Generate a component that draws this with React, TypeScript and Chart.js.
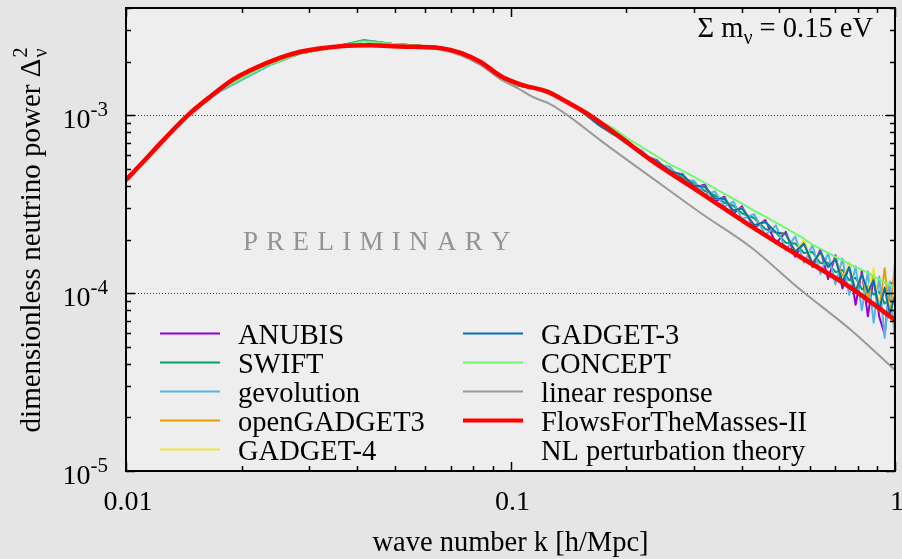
import React, { useEffect, useRef } from "react";
import { Chart, registerables } from "chart.js";

Chart.register(...registerables);

const SERIF = '"Liberation Serif", "Times New Roman", serif';

// ---------- axis / label data ----------
const xTickValues = [0.01, 0.1, 1];
const xTickLabels = ["0.01", "0.1", "1"];
const yTickValues = [1e-5, 1e-4, 1e-3];
const yTickExponents = ["-5", "-4", "-3"];
const gridValues = [1e-4, 1e-3];
const xTitle = "wave number k [h/Mpc]";
const yTitleMain = "dimensionless neutrino power \u0394";
const massText = ["\u03A3 m", "\u03BD", " = 0.15 eV"];
const watermark = "PRELIMINARY";

// ---------- series data ----------
const simK = [0.0155, 0.0176, 0.0235, 0.0283, 0.0345, 0.0414, 0.049, 0.0565, 0.066, 0.075, 0.085, 0.094, 0.104, 0.115, 0.125, 0.14, 0.155, 0.17, 0.185, 0.2, 0.22, 0.24, 0.26, 0.28, 0.3, 0.32, 0.34, 0.36, 0.38, 0.4, 0.43, 0.46, 0.49, 0.52, 0.55, 0.58, 0.61, 0.64, 0.67, 0.7, 0.73, 0.76, 0.79, 0.82, 0.85, 0.88, 0.91, 0.94, 0.97, 1.0];

const anubisP = [1.12e-3, 1.39e-3, 1.92e-3, 2.22e-3, 2.41e-3, 2.62e-3, 2.52e-3, 2.46e-3, 2.41e-3, 2.25e-3, 1.93e-3, 1.64e-3, 1.47e-3, 1.41e-3, 1.36e-3, 1.20e-3, 1.03e-3, 8.79e-4, 7.82e-4, 7.21e-4, 6.00e-4, 5.59e-4, 4.74e-4, 4.67e-4, 3.92e-4, 4.07e-4, 3.27e-4, 3.48e-4, 2.80e-4, 3.07e-4, 2.32e-4, 2.57e-4, 1.90e-4, 2.21e-4, 1.60e-4, 1.96e-4, 1.40e-4, 1.76e-4, 1.20e-4, 1.63e-4, 1.06e-4, 1.44e-4, 8.60e-5, 1.33e-4, 7.40e-5, 1.22e-4, 7.37e-5, 5.85e-5, 1.13e-4, 1.15e-4];

const swiftP = [1.12e-3, 1.39e-3, 1.92e-3, 2.22e-3, 2.41e-3, 2.64e-3, 2.52e-3, 2.46e-3, 2.41e-3, 2.25e-3, 1.93e-3, 1.64e-3, 1.47e-3, 1.41e-3, 1.36e-3, 1.20e-3, 1.03e-3, 8.79e-4, 7.82e-4, 7.02e-4, 6.16e-4, 5.37e-4, 4.92e-4, 4.43e-4, 4.18e-4, 3.76e-4, 3.54e-4, 3.22e-4, 3.10e-4, 2.81e-4, 2.64e-4, 2.29e-4, 2.19e-4, 1.92e-4, 1.90e-4, 1.68e-4, 1.70e-4, 1.47e-4, 1.48e-4, 1.31e-4, 1.35e-4, 1.18e-4, 1.22e-4, 1.05e-4, 1.09e-4, 9.81e-5, 1.02e-4, 8.73e-5, 9.22e-5, 8.79e-5];

const gevolutionP = [1.12e-3, 1.36e-3, 1.89e-3, 2.22e-3, 2.41e-3, 2.62e-3, 2.52e-3, 2.46e-3, 2.41e-3, 2.25e-3, 1.93e-3, 1.64e-3, 1.47e-3, 1.41e-3, 1.36e-3, 1.20e-3, 1.03e-3, 8.79e-4, 7.82e-4, 6.93e-4, 6.32e-4, 5.24e-4, 5.12e-4, 4.26e-4, 4.29e-4, 3.57e-4, 3.73e-4, 3.06e-4, 3.27e-4, 2.60e-4, 2.78e-4, 2.12e-4, 2.40e-4, 1.75e-4, 2.08e-4, 1.48e-4, 1.86e-4, 1.28e-4, 1.68e-4, 1.12e-4, 1.56e-4, 9.76e-5, 1.41e-4, 8.00e-5, 1.32e-4, 6.80e-5, 1.24e-4, 5.60e-5, 1.16e-4, 5.37e-5];

const openGadget3P = [1.12e-3, 1.39e-3, 1.92e-3, 2.22e-3, 2.41e-3, 2.62e-3, 2.52e-3, 2.46e-3, 2.41e-3, 2.25e-3, 1.93e-3, 1.64e-3, 1.47e-3, 1.41e-3, 1.36e-3, 1.20e-3, 1.03e-3, 8.79e-4, 7.82e-4, 7.12e-4, 6.08e-4, 5.52e-4, 4.86e-4, 4.61e-4, 4.02e-4, 3.96e-4, 3.40e-4, 3.39e-4, 2.91e-4, 3.00e-4, 2.41e-4, 2.51e-4, 2.19e-4, 2.15e-4, 1.71e-4, 1.89e-4, 1.47e-4, 1.70e-4, 1.40e-4, 1.55e-4, 1.25e-4, 1.40e-4, 1.02e-4, 1.28e-4, 9.13e-5, 1.26e-4, 8.00e-5, 1.38e-4, 7.24e-5, 1.49e-4];

const gadget4P = [1.12e-3, 1.39e-3, 1.92e-3, 2.22e-3, 2.41e-3, 2.62e-3, 2.52e-3, 2.46e-3, 2.41e-3, 2.25e-3, 1.93e-3, 1.64e-3, 1.47e-3, 1.41e-3, 1.36e-3, 1.20e-3, 1.03e-3, 8.79e-4, 7.82e-4, 7.12e-4, 6.08e-4, 5.52e-4, 4.86e-4, 4.61e-4, 4.02e-4, 3.96e-4, 3.40e-4, 3.39e-4, 2.91e-4, 3.00e-4, 2.41e-4, 2.51e-4, 2.19e-4, 2.15e-4, 1.71e-4, 1.99e-4, 1.47e-4, 1.70e-4, 1.40e-4, 1.55e-4, 1.16e-4, 1.49e-4, 1.02e-4, 1.28e-4, 1.01e-4, 1.38e-4, 8.00e-5, 1.07e-4, 7.59e-5, 9.75e-5];

const gadget3P = [1.12e-3, 1.39e-3, 1.92e-3, 2.22e-3, 2.41e-3, 2.62e-3, 2.52e-3, 2.46e-3, 2.41e-3, 2.25e-3, 1.93e-3, 1.64e-3, 1.47e-3, 1.41e-3, 1.36e-3, 1.20e-3, 1.03e-3, 8.79e-4, 7.82e-4, 7.12e-4, 6.08e-4, 5.52e-4, 4.86e-4, 4.61e-4, 4.02e-4, 3.96e-4, 3.40e-4, 3.39e-4, 2.91e-4, 3.00e-4, 2.41e-4, 2.51e-4, 2.19e-4, 2.15e-4, 1.71e-4, 1.89e-4, 1.47e-4, 1.70e-4, 1.40e-4, 1.55e-4, 1.16e-4, 1.40e-4, 1.02e-4, 1.28e-4, 1.01e-4, 1.18e-4, 8.00e-5, 1.07e-4, 7.59e-5, 9.75e-5];

const conceptP = [1.12e-3, 1.39e-3, 1.92e-3, 2.22e-3, 2.41e-3, 2.60e-3, 2.52e-3, 2.46e-3, 2.41e-3, 2.25e-3, 1.93e-3, 1.64e-3, 1.47e-3, 1.44e-3, 1.38e-3, 1.21e-3, 1.04e-3, 9.25e-4, 8.45e-4, 7.47e-4, 6.60e-4, 5.87e-4, 5.28e-4, 4.87e-4, 4.50e-4, 4.16e-4, 3.87e-4, 3.61e-4, 3.38e-4, 3.18e-4, 2.91e-4, 2.69e-4, 2.49e-4, 2.32e-4, 2.16e-4, 2.02e-4, 1.87e-4, 1.77e-4, 1.68e-4, 1.60e-4, 1.53e-4, 1.46e-4, 1.40e-4, 1.35e-4, 1.30e-4, 1.24e-4, 1.19e-4, 1.15e-4, 1.11e-4, 1.07e-4];

const linK = [0.01, 0.0112, 0.0123, 0.0145, 0.01655, 0.019, 0.021, 0.0237, 0.0284, 0.0361, 0.0432, 0.0518, 0.0583, 0.0658, 0.0741, 0.0836, 0.0942, 0.1043, 0.1148, 0.1271, 0.1406, 0.171, 0.232, 0.313, 0.422, 0.569, 0.768, 1.0];
const linP = [4.32e-4, 5.59e-4, 6.96e-4, 1.0e-3, 1.27e-3, 1.59e-3, 1.78e-3, 2.0e-3, 2.26e-3, 2.43e-3, 2.45e-3, 2.41e-3, 2.39e-3, 2.33e-3, 2.17e-3, 1.91e-3, 1.59e-3, 1.42e-3, 1.26e-3, 1.15e-3, 1.0e-3, 7.24e-4, 4.48e-4, 2.81e-4, 1.81e-4, 1.04e-4, 6.2e-5, 3.69e-5];

const ffmK = [0.01, 0.0112, 0.0123, 0.0145, 0.01655, 0.019, 0.021, 0.0237, 0.0284, 0.0361, 0.0432, 0.0518, 0.0658, 0.0741, 0.0836, 0.0942, 0.106, 0.125, 0.1406, 0.162, 0.193, 0.232, 0.313, 0.422, 0.569, 0.768, 1.0];
const ffmP = [4.32e-4, 5.59e-4, 6.96e-4, 1.0e-3, 1.27e-3, 1.59e-3, 1.78e-3, 2.0e-3, 2.27e-3, 2.44e-3, 2.47e-3, 2.43e-3, 2.38e-3, 2.24e-3, 1.99e-3, 1.66e-3, 1.49e-3, 1.35e-3, 1.18e-3, 9.87e-4, 7.52e-4, 5.59e-4, 3.65e-4, 2.38e-4, 1.59e-4, 1.07e-4, 7.05e-5];

const seriesLabels = ["ANUBIS", "SWIFT", "gevolution", "openGADGET3", "GADGET-4", "GADGET-3", "CONCEPT", "linear response", "FlowsForTheMasses-II", "NL perturbation theory"];
const seriesColors = ["#9400d3", "#009e73", "#56b4e9", "#e69f00", "#f0e442", "#0072b2", "#70f870", "#9a9a9a", "#ff0000", "rgba(0,0,0,0)"];

function pts(k: number[], p: number[]) {
  return k.map((x, i) => ({ x, y: p[i] }));
}

const seriesData = [
  pts(simK, anubisP),
  pts(simK, swiftP),
  pts(simK, gevolutionP),
  pts(simK, openGadget3P),
  pts(simK, gadget4P),
  pts(simK, gadget3P),
  pts(simK, conceptP),
  pts(linK, linP),
  pts(ffmK, ffmP),
  [] as { x: number; y: number }[],
];

const decorPlugin = {
  id: "decor",
  beforeDraw(chart: any) {
    const { ctx, chartArea: a } = chart;
    ctx.save();
    ctx.fillStyle = "#e6e5e5";
    ctx.fillRect(0, 0, chart.width, chart.height);
    ctx.fillStyle = "#efeeee";
    ctx.fillRect(a.left, a.top, a.right - a.left, a.bottom - a.top);
    ctx.restore();
  },
  beforeDatasetsDraw(chart: any) {
    const { ctx, chartArea: a, scales } = chart;
    ctx.save();
    ctx.strokeStyle = "#3a3a3a";
    ctx.lineWidth = 1;
    ctx.setLineDash([1, 2]);
    for (const v of gridValues) {
      const py = Math.round(scales.y.getPixelForValue(v)) + 0.5;
      ctx.beginPath();
      ctx.moveTo(a.left, py);
      ctx.lineTo(a.right, py);
      ctx.stroke();
    }
    ctx.restore();
    // watermark
    ctx.save();
    ctx.fillStyle = "#939393";
    ctx.font = `27px ${SERIF}`;
    ctx.textBaseline = "alphabetic";
    let x = 243;
    for (const ch of watermark) {
      ctx.fillText(ch, x, 250);
      x += ctx.measureText(ch).width + 8.3;
    }
    ctx.restore();
  },
  afterDatasetsDraw(chart: any) {
    const { ctx, chartArea: a, scales } = chart;
    const xs = scales.x;
    const ys = scales.y;
    ctx.save();
    ctx.strokeStyle = "#000";
    ctx.fillStyle = "#000";
    ctx.lineWidth = 1.5;
    // ticks
    ctx.beginPath();
    for (let e = -2; e <= 0; e++) {
      for (let m = 1; m <= 9; m++) {
        const v = m * Math.pow(10, e);
        if (v > 1.0001) continue;
        const px = Math.round(xs.getPixelForValue(v)) + 0.5;
        const len = m === 1 ? 9 : 5;
        ctx.moveTo(px, a.bottom);
        ctx.lineTo(px, a.bottom - len);
        ctx.moveTo(px, a.top);
        ctx.lineTo(px, a.top + len);
      }
    }
    for (let e = -5; e <= -3; e++) {
      for (let m = 1; m <= 9; m++) {
        const v = m * Math.pow(10, e);
        if (v > ys.max) continue;
        const py = Math.round(ys.getPixelForValue(v)) + 0.5;
        const len = m === 1 ? 9 : 5;
        ctx.moveTo(a.left, py);
        ctx.lineTo(a.left + len, py);
        ctx.moveTo(a.right, py);
        ctx.lineTo(a.right - len, py);
      }
    }
    ctx.stroke();
    // frame
    ctx.lineWidth = 2;
    ctx.strokeRect(a.left, a.top, a.right - a.left, a.bottom - a.top);

    // x tick labels
    ctx.font = `28px ${SERIF}`;
    ctx.textAlign = "center";
    ctx.textBaseline = "alphabetic";
    xTickValues.forEach((v, i) => {
      ctx.fillText(xTickLabels[i], xs.getPixelForValue(v) + 2, 510);
    });
    // y tick labels
    yTickValues.forEach((v, i) => {
      const py = ys.getPixelForValue(v);
      ctx.font = `28px ${SERIF}`;
      const w1 = ctx.measureText("10").width;
      ctx.font = `21px ${SERIF}`;
      const w2 = ctx.measureText(yTickExponents[i]).width;
      const x0 = 108 - w1 - w2;
      ctx.textAlign = "left";
      ctx.font = `28px ${SERIF}`;
      ctx.fillText("10", x0, py + 13);
      ctx.font = `21px ${SERIF}`;
      ctx.fillText(yTickExponents[i], x0 + w1, py + 0.5);
    });
    // x title
    ctx.font = `28.5px ${SERIF}`;
    ctx.textAlign = "center";
    ctx.fillText(xTitle, (a.left + a.right) / 2, 551);
    // y title
    ctx.save();
    ctx.translate(40, (a.top + a.bottom) / 2 + 1);
    ctx.rotate(-Math.PI / 2);
    ctx.textAlign = "left";
    ctx.font = `29px ${SERIF}`;
    const wMain = ctx.measureText(yTitleMain).width;
    ctx.font = `20px ${SERIF}`;
    const wScr = Math.max(ctx.measureText("2").width, ctx.measureText("\u03BD").width);
    const start = -(wMain + wScr) / 2;
    ctx.font = `29px ${SERIF}`;
    ctx.fillText(yTitleMain, start, 0);
    ctx.font = `20px ${SERIF}`;
    ctx.fillText("2", start + wMain + 1, -13);
    ctx.fillText("\u03BD", start + wMain + 1, 7);
    ctx.restore();

    // sum of masses
    ctx.textAlign = "left";
    ctx.font = `28.5px ${SERIF}`;
    const wa = ctx.measureText(massText[0]).width;
    const wc = ctx.measureText(massText[2]).width;
    ctx.font = `20px ${SERIF}`;
    const wb = ctx.measureText(massText[1]).width;
    const mx = 873 - wa - wb - wc;
    ctx.font = `28.5px ${SERIF}`;
    ctx.fillText(massText[0], mx, 37);
    ctx.font = `20px ${SERIF}`;
    ctx.fillText(massText[1], mx + wa, 44);
    ctx.font = `28.5px ${SERIF}`;
    ctx.fillText(massText[2], mx + wa + wb, 37);

    // legend
    ctx.font = `28.5px ${SERIF}`;
    chart.data.datasets.forEach((ds: any, i: number) => {
      const col = i < 5 ? 0 : 1;
      const row = i % 5;
      const lx = col === 0 ? 160 : 463;
      const tx = col === 0 ? 238 : 541;
      const ly = 333.5 + row * 29;
      if (ds.borderColor !== "rgba(0,0,0,0)") {
        ctx.strokeStyle = ds.borderColor;
        ctx.lineWidth = ds.legendWidth;
        ctx.beginPath();
        ctx.moveTo(lx, ly);
        ctx.lineTo(lx + 60, ly);
        ctx.stroke();
      }
      ctx.fillStyle = "#000";
      ctx.fillText(ds.label, tx, ly + 10.5);
    });
    ctx.restore();
  },
};

export default function App() {
  const ref = useRef<HTMLCanvasElement>(null);
  useEffect(() => {
    const canvas = ref.current;
    if (!canvas) return;
    const datasets = seriesLabels.map((label, i) => ({
      label,
      data: seriesData[i],
      borderColor: seriesColors[i],
      backgroundColor: seriesColors[i],
      borderWidth: i === 8 ? 4.5 : 2,
      legendWidth: i === 8 ? 4 : 2,
      pointRadius: 0,
      fill: false,
      tension: 0,
      cubicInterpolationMode: i === 7 || i === 8 ? "monotone" : "default",
      borderJoinStyle: "round",
      borderCapStyle: "round",
      order: 10 - i,
    }));
    const chart = new Chart(canvas, {
      type: "line",
      data: { datasets } as any,
      options: {
        responsive: false,
        animation: false,
        devicePixelRatio: 1,
        events: [],
        layout: { padding: { left: 126, right: 7, top: 8, bottom: 88 } },
        scales: {
          x: { type: "logarithmic", min: 0.01, max: 1, display: false },
          y: { type: "logarithmic", min: 1e-5, max: 4e-3, display: false },
        },
        plugins: { legend: { display: false }, tooltip: { enabled: false } },
      } as any,
      plugins: [decorPlugin as any],
    });
    return () => chart.destroy();
  }, []);
  return (
    <div style={{ position: "fixed", left: 0, top: 0, width: 902, height: 559 }}>
      <canvas ref={ref} width={902} height={559} style={{ display: "block" }} />
    </div>
  );
}
